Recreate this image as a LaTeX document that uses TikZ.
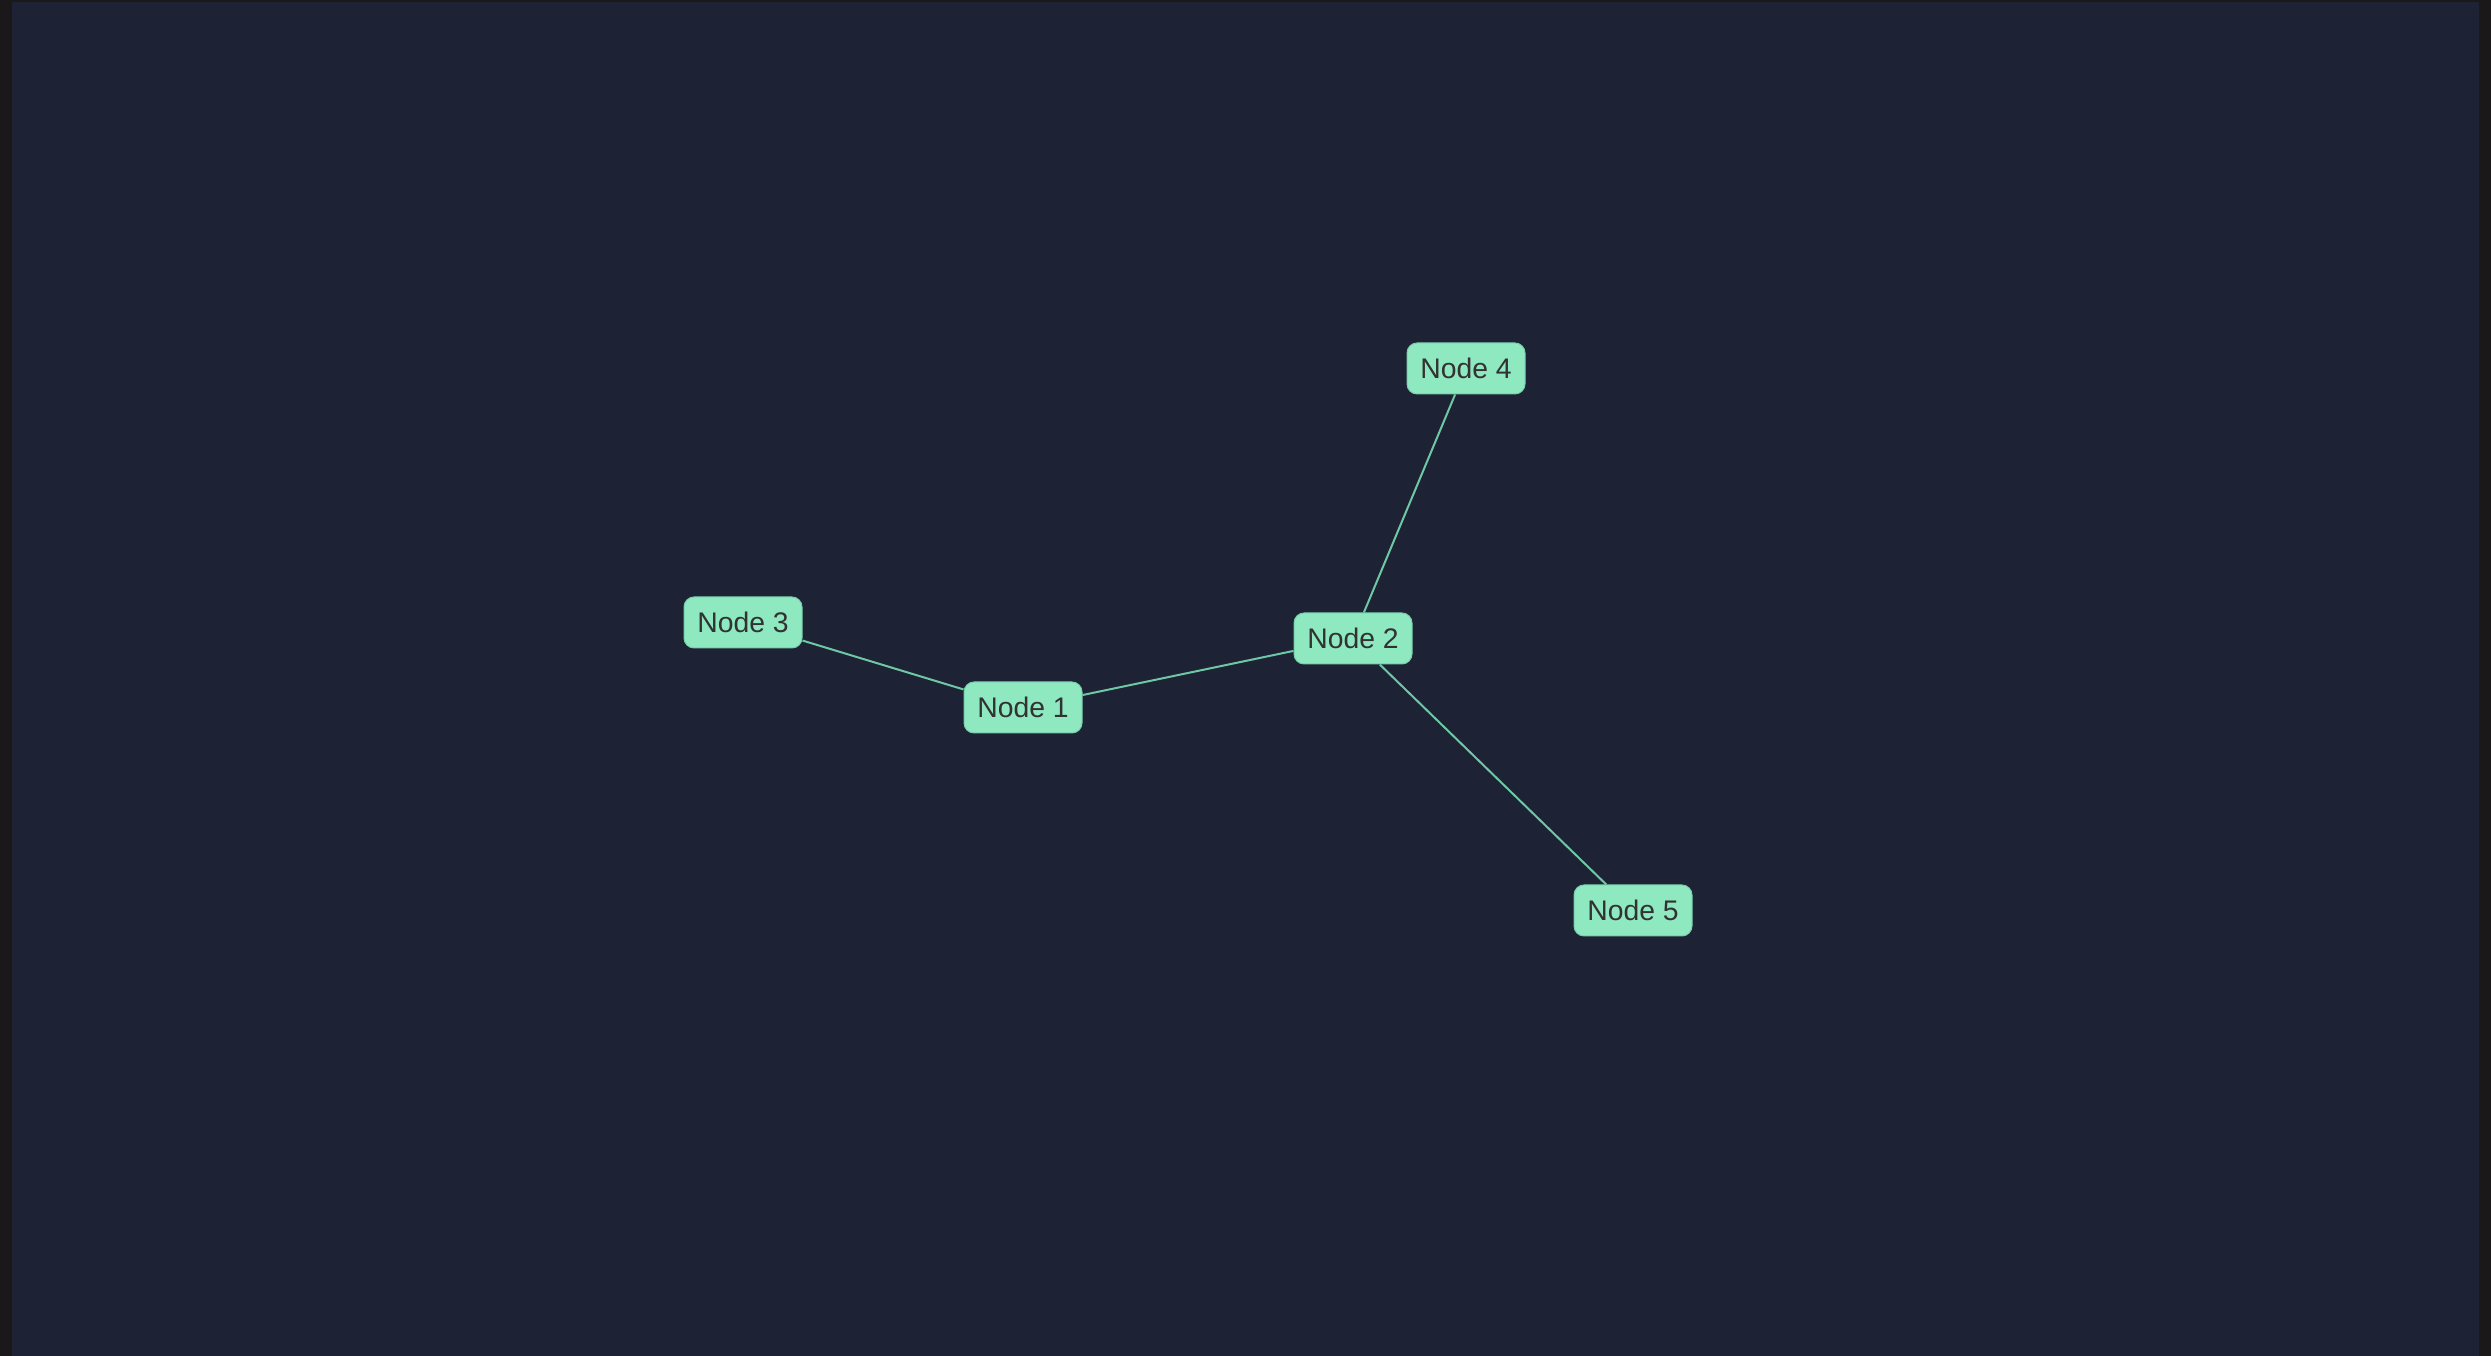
\documentclass[tikz,border=0pt]{standalone}
\usepackage{fontspec}
\setmainfont{Liberation Sans}
\usepackage{tikz}
\usetikzlibrary{positioning, calc}
\definecolor{bgblue}{RGB}{30,34,53}
\definecolor{frameblack}{RGB}{27,24,25}
\definecolor{mint}{RGB}{142,233,193}
\definecolor{mintrim}{RGB}{120,205,170}
\definecolor{edgemint}{RGB}{110,200,165}
\definecolor{textgrey}{RGB}{50,50,50}
\tikzstyle{Edge} = [
%thin mint connector:
draw = edgemint, line width = 0.6pt
]

\begin{document}
\begin{tikzpicture}[
			x = 0.3pt, y = -0.3pt,
			vertex/.style = {rectangle, rounded corners = 3pt, fill = mint, draw = mintrim, line width = 0.3pt, text = textgrey, text centered, minimum width = 35.4pt, minimum height = 15.3pt, inner sep = 0pt, font = \fontsize{8.5}{10}\selectfont},
		]
		\useasboundingbox (0,0) rectangle (2491,1356);
		\fill[frameblack] (0,0) rectangle (2491,1356);
		\fill[bgblue] (12,2) rectangle (2479,1356);

		\node[vertex](N1) at (1023,707.5){Node 1};
		\node[vertex](N2) at (1353,638.5){Node 2};
		\node[vertex](N3) at (743,622.5){Node 3};
		\node[vertex](N4) at (1466,368.5){Node 4};
		\node[vertex](N5) at (1633,910.5){Node 5};

		\draw[Edge](N3)--(N1);
		\draw[Edge](N1)--(N2);
		\draw[Edge](N2)--(N4);
		\draw[Edge](N2)--(N5);
	\end{tikzpicture}
\end{document}
